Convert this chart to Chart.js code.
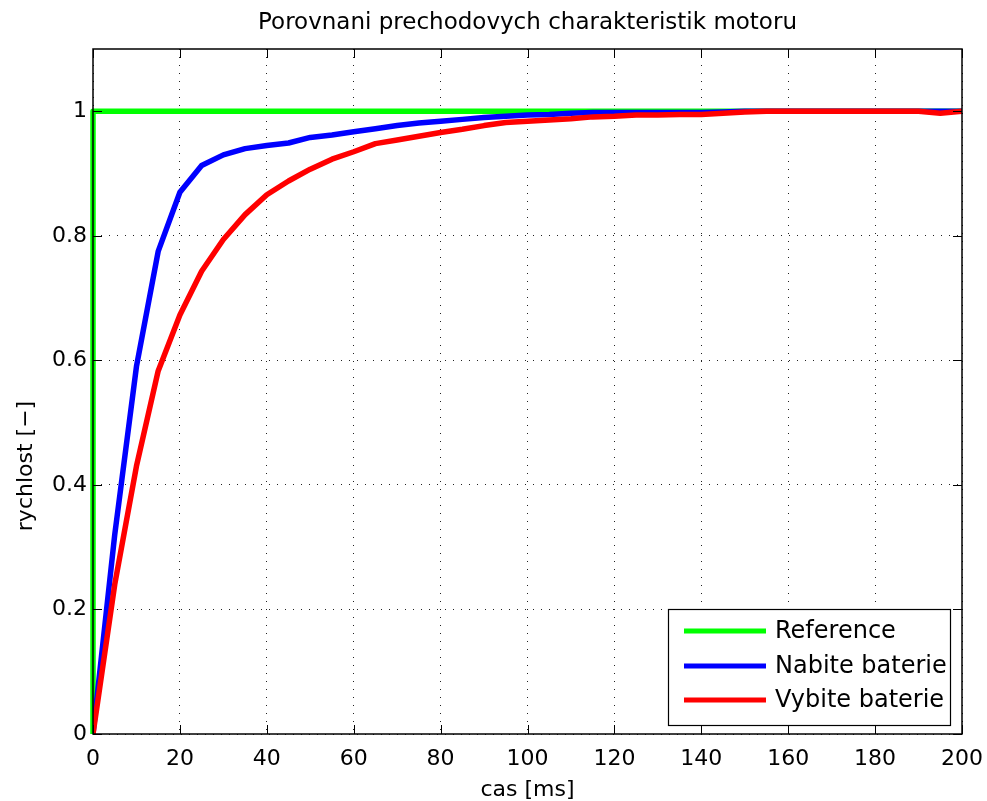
<!DOCTYPE html>
<html lang="cs">
<head>
<meta charset="UTF-8">
<title>Porovnani prechodovych charakteristik motoru</title>
<script src="https://cdn.jsdelivr.net/npm/chart.js"></script>
<style>
  body { margin: 0; background: #fff; }
  canvas { display: block; }
</style>
</head>
<body>
<canvas id="motor" width="987" height="801"></canvas>
<script>
// time axis [ms], one sample every 5 ms
const timeMs = [0, 5, 10, 15, 20, 25, 30, 35, 40, 45, 50, 55, 60, 65, 70, 75, 80, 85, 90, 95,
  100, 105, 110, 115, 120, 125, 130, 135, 140, 145, 150, 155, 160, 165, 170, 175, 180, 185, 190, 195, 200];

// charged battery
const nabite = [0, 0.32, 0.59, 0.775, 0.87, 0.913, 0.93, 0.94, 0.945, 0.949, 0.958, 0.962, 0.967, 0.972, 0.977, 0.981,
  0.984, 0.987, 0.99, 0.992, 0.994, 0.995, 0.997, 0.998, 0.998, 0.998, 0.998, 0.998, 0.998, 0.999, 1,
  1, 1, 1, 1, 1, 1, 1, 1, 1, 1];

// discharged battery
const vybite = [0, 0.24, 0.43, 0.583, 0.673, 0.743, 0.794, 0.834, 0.866, 0.888, 0.907, 0.923, 0.935, 0.948, 0.954, 0.96,
  0.966, 0.971, 0.977, 0.982, 0.984, 0.986, 0.988, 0.991, 0.992, 0.994, 0.994, 0.995, 0.995, 0.997, 0.999,
  1, 1, 1, 1, 1, 1, 1, 1, 0.997, 1];

// reference step
const refTime = [0, 0, 200];
const refValue = [0, 1, 1];

const xTicks = [0, 20, 40, 60, 80, 100, 120, 140, 160, 180, 200];
const yTicks = [0, 0.2, 0.4, 0.6, 0.8, 1];
const yTitle = 'rychlost [−]';

const FONT = "'DejaVu Sans', sans-serif";

function toPoints(xs, ys) {
  return xs.map((x, i) => ({ x: x, y: ys[i] }));
}

// fixed axis boxes, no extra room for overflowing labels
function fixBox(size) {
  return s => {
    if (s.isHorizontal()) s.height = size; else s.width = size;
    s.paddingLeft = 0; s.paddingRight = 0; s.paddingTop = 0; s.paddingBottom = 0;
  };
}

// MATLAB style box, inward ticks, y label and legend inside the axes
const matlabBox = {
  id: 'matlabBox',
  afterDatasetsDraw(chart) {
    const ctx = chart.ctx;
    const a = chart.chartArea;
    const xs = chart.scales.x, ys = chart.scales.y;
    const tl = 9;
    ctx.save();
    ctx.strokeStyle = '#000';
    ctx.lineWidth = 1;
    ctx.beginPath();
    xTicks.forEach(v => {
      const px = Math.round(xs.getPixelForValue(v)) + 0.5;
      ctx.moveTo(px, a.bottom); ctx.lineTo(px, a.bottom - tl);
      ctx.moveTo(px, a.top); ctx.lineTo(px, a.top + tl);
    });
    yTicks.forEach(v => {
      const py = Math.round(ys.getPixelForValue(v)) + 0.5;
      ctx.moveTo(a.left, py); ctx.lineTo(a.left + tl, py);
      ctx.moveTo(a.right, py); ctx.lineTo(a.right - tl, py);
    });
    ctx.stroke();
    ctx.lineWidth = 1.5;
    ctx.strokeRect(a.left, a.top, a.right - a.left, a.bottom - a.top);

    // y label, sits a bit below the middle like in the original figure
    ctx.fillStyle = '#000';
    ctx.font = "22px " + FONT;
    ctx.textAlign = 'center';
    ctx.textBaseline = 'middle';
    ctx.save();
    ctx.translate(26, 466);
    ctx.rotate(-Math.PI / 2);
    ctx.fillText(yTitle, 0, 0);
    ctx.restore();

    // legend
    const w = 282, h = 116;
    const bx = a.right - 12 - w, by = a.bottom - 9 - h;
    ctx.fillStyle = '#fff';
    ctx.fillRect(bx, by, w, h);
    ctx.lineWidth = 1.2;
    ctx.strokeRect(bx + 0.5, by + 0.5, w, h);
    const rows = [22, 57, 91];
    ctx.font = "24px " + FONT;
    ctx.textAlign = 'left';
    chart.data.datasets.forEach((ds, i) => {
      const y = by + rows[i];
      ctx.strokeStyle = ds.borderColor;
      ctx.lineWidth = 5;
      ctx.beginPath();
      ctx.moveTo(bx + 16, y); ctx.lineTo(bx + 98, y);
      ctx.stroke();
      ctx.fillStyle = '#000';
      ctx.fillText(ds.label, bx + 107, y + 1);
    });
    ctx.restore();
  }
};

new Chart(document.getElementById('motor'), {
  type: 'line',
  data: {
    datasets: [
      { label: 'Reference', data: toPoints(refTime, refValue), borderColor: '#00ff00', order: 3,
        clip: { left: 3, top: 0, right: 0, bottom: 0 } },
      { label: 'Nabite baterie', data: toPoints(timeMs, nabite), borderColor: '#0000ff', order: 2 },
      { label: 'Vybite baterie', data: toPoints(timeMs, vybite), borderColor: '#ff0000', order: 1 }
    ]
  },
  options: {
    responsive: false,
    animation: false,
    layout: { padding: { left: 0, right: 25, top: 0, bottom: 0 } },
    elements: {
      line: { borderWidth: 5.5, tension: 0, fill: false, borderJoinStyle: 'round' },
      point: { radius: 0, hoverRadius: 0 }
    },
    plugins: {
      legend: { display: false },
      tooltip: { enabled: false },
      title: {
        display: true,
        fullSize: false,
        text: 'Porovnani prechodovych charakteristik motoru',
        color: '#000',
        font: { family: FONT, size: 23, weight: 'normal' },
        padding: { top: 9, bottom: 12.4 }
      }
    },
    scales: {
      x: {
        type: 'linear',
        min: 0,
        max: 200,
        afterFit: fixBox(67),
        afterBuildTicks: s => { s.ticks = xTicks.map(v => ({ value: v })); },
        grid: { color: '#222', lineWidth: 1, drawTicks: false },
        border: { display: false, dash: [1, 7] },
        ticks: { color: '#000', padding: 12, maxRotation: 0, font: { family: FONT, size: 22 }, callback: v => String(v) },
        title: { display: true, text: 'cas [ms]', color: '#000', font: { family: FONT, size: 22, lineHeight: 1.0 }, padding: 0 }
      },
      y: {
        type: 'linear',
        min: 0,
        max: 1.1,
        afterFit: fixBox(93),
        afterBuildTicks: s => { s.ticks = yTicks.map(v => ({ value: v })); },
        grid: { color: '#222', lineWidth: 1, drawTicks: false },
        border: { display: false, dash: [1, 7] },
        ticks: { color: '#000', padding: 6, font: { family: FONT, size: 22 }, callback: v => String(v) },
        title: { display: false }
      }
    }
  },
  plugins: [matlabBox]
});
</script>
</body>
</html>
